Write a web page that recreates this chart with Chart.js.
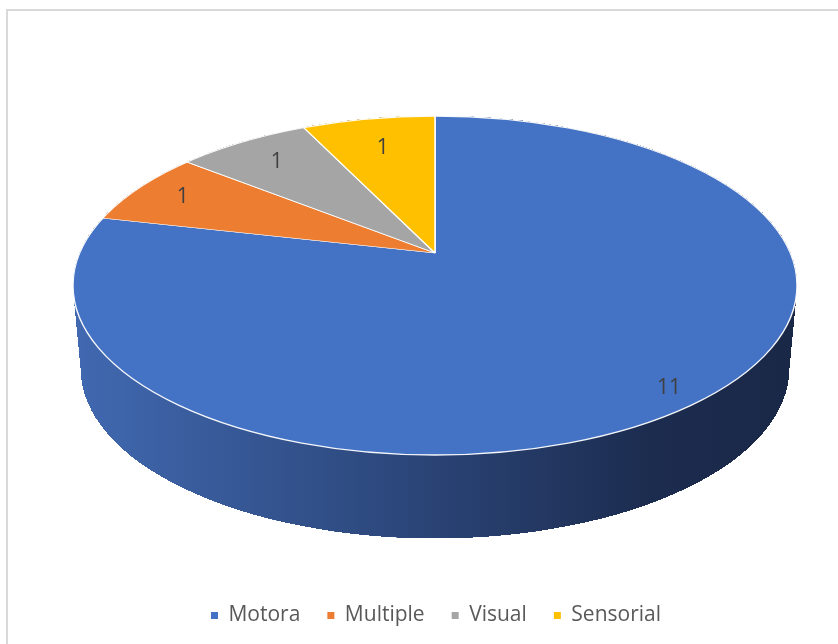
<!DOCTYPE html>
<html>
<head>
<meta charset="utf-8">
<script src="https://cdn.jsdelivr.net/npm/chart.js@4.4.1/dist/chart.umd.min.js"></script>
<style>
  html, body { margin: 0; padding: 0; background: #fff; overflow: hidden; }
  #frame { position: absolute; left: 6px; top: 9px; border: 2px solid #d9d9d9; }
  canvas { display: block; }
</style>
</head>
<body>
<div id="frame"><canvas id="pieCanvas" width="856" height="640"></canvas></div>
<script>
const categories = ['Motora', 'Multiple', 'Visual', 'Sensorial'];
const counts = [11, 1, 1, 1];
const sliceColors = ['#4472C4', '#ED7D31', '#A5A5A5', '#FFC000'];
// side wall shading, left to right
const sideShades = [
    ['#4169b1', '#2c477b', '#1c2c4f', '#1a2847'],
    ['#b0581f', '#8a4418', '#6a3412', '#5e2e10'],
    ['#7a7a7a', '#5e5e5e', '#484848', '#404040'],
    ['#c09000', '#967000', '#735600', '#664c00']
];

// geometry of the tilted pie, in canvas pixels
const face = { cx: 427, cy: 274.5, rx: 362, ry: 169.5 };
const apex = { x: 427, y: 242 };
const depth = 83;
const baseRx = 354;
const arcRadius = 230;
const kx = 500 / arcRadius, ky = 1;

function mapArc(ctx, el, dy) {
    ctx.translate(apex.x, apex.y + dy);
    ctx.scale(kx, ky);
    ctx.translate(-el.x, -el.y);
}

// how far out along a slice's middle ray its label sits (back slices sit closer in)
function labelFrac(angle) {
    const s = -Math.sin(angle);
    return 0.86 - 0.08 * s * s * s;
}

const pie3d = {
    id: 'pie3d',
    beforeDatasetDraw(chart, args) {
        const ctx = chart.ctx;
        const arcs = args.meta.data;
        if (!arcs.length) return;
        const ref = arcs[0];

        // side wall: the slices pushed down step by step, clipped to the cylinder outline
        ctx.save();
        ctx.beginPath();
        ctx.ellipse(face.cx, face.cy, face.rx, face.ry, 0, Math.PI, 2 * Math.PI);
        ctx.ellipse(face.cx, face.cy + depth, baseRx, face.ry, 0, 0, Math.PI);
        ctx.closePath();
        ctx.clip();
        const x0 = ref.x + (face.cx - face.rx - apex.x) / kx;
        const x1 = ref.x + (face.cx + face.rx - apex.x) / kx;
        const ghosts = arcs.map((el, i) => {
            const g = ctx.createLinearGradient(x0, 0, x1, 0);
            const s = sideShades[i];
            g.addColorStop(0, s[0]);
            g.addColorStop(0.45, s[1]);
            g.addColorStop(0.8, s[2]);
            g.addColorStop(1, s[3]);
            const ghost = Object.create(el);
            ghost.options = { ...el.options, backgroundColor: g, borderWidth: 0 };
            return ghost;
        });
        for (let d = depth; d >= 0; d--) {
            ctx.save();
            mapArc(ctx, ref, d);
            ghosts.forEach(g => g.draw(ctx));
            ctx.restore();
        }
        ctx.restore();

        // top face
        ctx.save();
        ctx.beginPath();
        ctx.ellipse(face.cx, face.cy, face.rx, face.ry, 0, 0, 2 * Math.PI);
        ctx.clip();
        mapArc(ctx, ref, 0);
    },
    afterDatasetDraw(chart, args) {
        const ctx = chart.ctx;
        const arcs = args.meta.data;
        if (!arcs.length) return;
        ctx.restore();

        ctx.save();
        ctx.beginPath();
        ctx.ellipse(face.cx, face.cy, face.rx, face.ry, 0, 0, 2 * Math.PI);
        ctx.strokeStyle = 'rgba(255,255,255,0.95)';
        ctx.lineWidth = 1.4;
        ctx.stroke();

        // value labels along each slice's middle ray
        ctx.font = '21px "Open Sans"';
        ctx.fillStyle = '#404040';
        ctx.textAlign = 'center';
        ctx.textBaseline = 'middle';
        const values = chart.data.datasets[0].data;
        arcs.forEach((el, i) => {
            const mid = (el.startAngle + el.endAngle) / 2;
            const dx = kx * Math.cos(mid), dy = ky * Math.sin(mid);
            const px = apex.x - face.cx, py = apex.y - face.cy;
            const a = (dx / face.rx) ** 2 + (dy / face.ry) ** 2;
            const b = 2 * (px * dx / face.rx ** 2 + py * dy / face.ry ** 2);
            const c = (px / face.rx) ** 2 + (py / face.ry) ** 2 - 1;
            const t = (-b + Math.sqrt(b * b - 4 * a * c)) / (2 * a) * labelFrac(mid);
            ctx.fillText(String(values[i]), apex.x + dx * t, apex.y + dy * t);
        });
        ctx.restore();
    }
};

new Chart(document.getElementById('pieCanvas'), {
    type: 'pie',
    data: {
        labels: categories,
        datasets: [{
            data: counts,
            backgroundColor: sliceColors,
            borderColor: '#ffffff',
            borderWidth: 0.7,
            clip: false
        }]
    },
    options: {
        responsive: false,
        animation: false,
        events: [],
        radius: arcRadius,
        layout: { padding: { bottom: 15 } },
        plugins: {
            tooltip: { enabled: false },
            legend: {
                position: 'bottom',
                labels: {
                    boxWidth: 7,
                    boxHeight: 7,
                    padding: 27,
                    color: '#595959',
                    font: { family: '"Open Sans"', size: 21 },
                    generateLabels: chart => chart.data.labels.map((text, i) => ({
                        text,
                        fillStyle: sliceColors[i],
                        strokeStyle: sliceColors[i],
                        fontColor: '#595959',
                        lineWidth: 0,
                        hidden: false,
                        index: i
                    }))
                }
            }
        }
    },
    plugins: [pie3d]
});
</script>
</body>
</html>
